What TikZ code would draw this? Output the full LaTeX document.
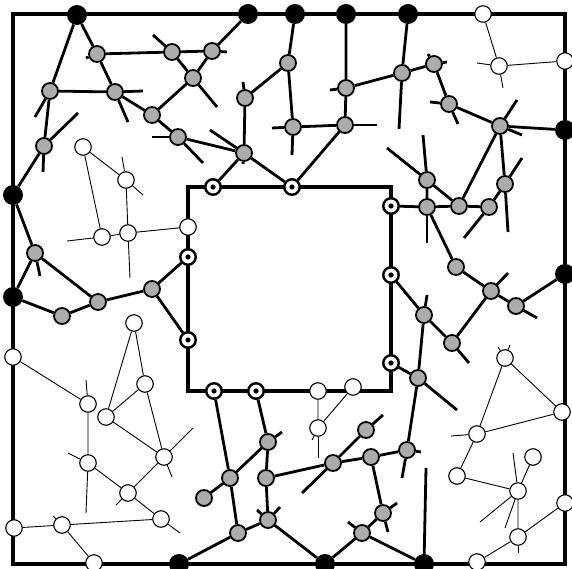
\documentclass[tikz,border=0pt]{standalone}
\begin{document}
\begin{tikzpicture}[x=1pt, y=-1pt,
    bond/.style={line width=2.8pt},
    thin bond/.style={line width=0.9pt},
    frame/.style={line width=3.2pt},
    gray site/.style={circle, draw, fill=gray!65, line width=1.8pt, minimum size=16pt, inner sep=0pt},
    black site/.style={circle, fill=black, minimum size=20pt, inner sep=0pt},
    white site/.style={circle, draw, fill=white, line width=1.1pt, minimum size=16.5pt, inner sep=0pt},
    dot site/.style={circle, draw, fill=white, line width=2.4pt, minimum size=15.5pt, inner sep=0pt},
  ]
  \useasboundingbox (0,0) rectangle (572,569);

  % --- Outer and inner squares ---
  \draw[frame] (13,14) rectangle (565,564);
  \draw[frame] (188,187) rectangle (391,391);

  % --- Sites on the outer square ---
  \node[black site] (b1) at (77,15) {};
  \node[black site] (b2) at (248,14) {};
  \node[black site] (b3) at (295,14) {};
  \node[black site] (b4) at (346,14) {};
  \node[black site] (b5) at (408,14) {};
  \node[black site] (b6) at (565,130) {};
  \node[black site] (b7) at (565,274) {};
  \node[black site] (b8) at (424,564) {};
  \node[black site] (b9) at (325,564) {};
  \node[black site] (b10) at (179,564) {};
  \node[black site] (b11) at (13,195) {};
  \node[black site] (b12) at (13,297) {};

  % --- Sites on the inner square ---
  \node[dot site] (d1) at (213,187) {};
  \node[dot site] (d2) at (292,187) {};
  \node[dot site] (d3) at (391,206) {};
  \node[dot site] (d4) at (391,275) {};
  \node[dot site] (d5) at (391,363) {};
  \node[dot site] (d6) at (188,257) {};
  \node[dot site] (d7) at (188,340) {};
  \node[dot site] (d8) at (214,391) {};
  \node[dot site] (d9) at (256,391) {};
  \foreach \d in {d1,d2,d3,d4,d5,d6,d7,d8,d9}
    \fill (\d.center) circle (2.6pt);

  % --- Gray sites (connected cluster) ---
  \node[gray site] (g1) at (97,54) {};
  \node[gray site] (g2) at (50,91) {};
  \node[gray site] (g3) at (115,92) {};
  \node[gray site] (g4) at (152,115) {};
  \node[gray site] (g5) at (44,146) {};
  \node[gray site] (g6) at (178,137) {};
  \node[gray site] (g7) at (172,52) {};
  \node[gray site] (g8) at (193,78) {};
  \node[gray site] (g9) at (212,51) {};
  \node[gray site] (g10) at (245,98) {};
  \node[gray site] (g11) at (244,153) {};
  \node[gray site] (g12) at (288,63) {};
  \node[gray site] (g13) at (293,127) {};
  \node[gray site] (g14) at (345,125) {};
  \node[gray site] (g15) at (346,88) {};
  \node[gray site] (g16) at (402,73) {};
  \node[gray site] (g17) at (434,64) {};
  \node[gray site] (g18) at (449,104) {};
  \node[gray site] (g19) at (500,126) {};
  \node[gray site] (g20) at (505,184) {};
  \node[gray site] (g21) at (459,206) {};
  \node[gray site] (g22) at (427,180) {};
  \node[gray site] (g23) at (427,207) {};
  \node[gray site] (g24) at (489,207) {};
  \node[gray site] (g25) at (456,267) {};
  \node[gray site] (g26) at (491,291) {};
  \node[gray site] (g27) at (516,306) {};
  \node[gray site] (g28) at (452,343) {};
  \node[gray site] (g29) at (424,315) {};
  \node[gray site] (g30) at (418,378) {};
  \node[gray site] (g31) at (407,450) {};
  \node[gray site] (g32) at (371,457) {};
  \node[gray site] (g33) at (383,513) {};
  \node[gray site] (g34) at (362,533) {};
  \node[gray site] (g35) at (366,430) {};
  \node[gray site] (g36) at (333,463) {};
  \node[gray site] (g37) at (230,478) {};
  \node[gray site] (g38) at (238,533) {};
  \node[gray site] (g39) at (268,520) {};
  \node[gray site] (g40) at (266,478) {};
  \node[gray site] (g41) at (268,442) {};
  \node[gray site] (g42) at (204,498) {};
  \node[gray site] (g43) at (35,253) {};
  \node[gray site] (g44) at (62,316) {};
  \node[gray site] (g45) at (98,302) {};
  \node[gray site] (g46) at (152,289) {};

  % --- White sites (isolated clusters) ---
  \node[white site] (w1) at (83,147) {};
  \node[white site] (w2) at (126,180) {};
  \node[white site] (w3) at (102,237) {};
  \node[white site] (w4) at (128,233) {};
  \node[white site] (w5) at (188,227) {};
  \node[white site] (w6) at (13,357) {};
  \node[white site] (w7) at (88,404) {};
  \node[white site] (w8) at (134,323) {};
  \node[white site] (w9) at (145,384) {};
  \node[white site] (w10) at (106,417) {};
  \node[white site] (w11) at (164,457) {};
  \node[white site] (w12) at (88,463) {};
  \node[white site] (w13) at (128,493) {};
  \node[white site] (w14) at (161,519) {};
  \node[white site] (w15) at (14,528) {};
  \node[white site] (w16) at (62,525) {};
  \node[white site] (w17) at (94,563) {};
  \node[white site] (w18) at (318,391) {};
  \node[white site] (w19) at (353,387) {};
  \node[white site] (w20) at (318,428) {};
  \node[white site] (w21) at (483,14) {};
  \node[white site] (w22) at (499,66) {};
  \node[white site] (w23) at (565,61) {};
  \node[white site] (w24) at (505,358) {};
  \node[white site] (w25) at (562,412) {};
  \node[white site] (w26) at (477,434) {};
  \node[white site] (w27) at (457,476) {};
  \node[white site] (w28) at (518,491) {};
  \node[white site] (w29) at (533,457) {};
  \node[white site] (w30) at (565,503) {};
  \node[white site] (w31) at (518,537) {};
  \node[white site] (w32) at (477,562) {};

  % --- Free ends of dangling bonds ---
  \coordinate (g1a) at (86,58);
  \coordinate (g2a) at (35,117);
  \coordinate (g3a) at (143,91);   \coordinate (g3b) at (128,122);
  \coordinate (g5a) at (78,113);   \coordinate (g5b) at (43,172);
  \coordinate (g6a) at (152,137);  \coordinate (g6b) at (203,163);
  \coordinate (g7a) at (153,35);
  \coordinate (g8a) at (217,107);
  \coordinate (g9a) at (227,52);
  \coordinate (g10a) at (243,82);
  \coordinate (g11a) at (210,130); \coordinate (g11b) at (243,164);
  \coordinate (g13a) at (272,128); \coordinate (g13b) at (292,155);
  \coordinate (g14a) at (377,125);
  \coordinate (g15a) at (330,90);
  \coordinate (g16a) at (399,129);
  \coordinate (g17a) at (428,54);  \coordinate (g17b) at (447,62);
  \coordinate (g18a) at (430,102); \coordinate (g18b) at (458,124);
  \coordinate (g19a) at (517,100); \coordinate (g19b) at (522,135);
  \coordinate (g20a) at (522,158); \coordinate (g20b) at (508,232);
  \coordinate (g22a) at (387,148); \coordinate (g22b) at (423,135);
  \coordinate (g23a) at (427,243);
  \coordinate (g24a) at (464,238);
  \coordinate (g26a) at (508,273);
  \coordinate (g27a) at (537,318);
  \coordinate (g28a) at (469,363);
  \coordinate (g29a) at (427,295);
  \coordinate (g30a) at (457,410);
  \coordinate (g31a) at (421,452); \coordinate (g31b) at (402,478);
  \coordinate (g33a) at (397,503); \coordinate (g33b) at (388,532);
  \coordinate (g34a) at (348,522);
  \coordinate (g35a) at (383,415);
  \coordinate (g36a) at (302,493);
  \coordinate (g39a) at (257,510); \coordinate (g39b) at (280,507);
  \coordinate (g41a) at (282,432);
  \coordinate (g43a) at (40,276);
  \coordinate (b8a) at (426,468);

  \coordinate (w2a) at (143,195);  \coordinate (w2b) at (122,157);
  \coordinate (w3a) at (67,241);
  \coordinate (w4a) at (130,278);
  \coordinate (w7a) at (86,380);
  \coordinate (w12a) at (86,513);  \coordinate (w12b) at (68,453);
  \coordinate (w11a) at (193,428); \coordinate (w11b) at (172,477);
  \coordinate (w13a) at (116,505);
  \coordinate (w14a) at (180,533);
  \coordinate (w16a) at (53,516);
  \coordinate (w20a) at (318,458); \coordinate (w20b) at (312,440);
  \coordinate (w22a) at (477,63);  \coordinate (w22b) at (503,88);
  \coordinate (w24a) at (498,347); \coordinate (w24b) at (510,345);
  \coordinate (w26a) at (451,436);
  \coordinate (w28a) at (513,453); \coordinate (w28b) at (480,522);
  \coordinate (w28c) at (505,528);
  \coordinate (w29a) at (535,448);
  \coordinate (w31a) at (518,553);

  % --- Bonds of the gray cluster ---
  \draw[bond] (b1) -- (g1) -- (g3) -- (g4) -- (g6) -- (g11);
  \draw[bond] (b1) -- (g2) -- (g3);
  \draw[bond] (g2) -- (g5) -- (b11);
  \draw[bond] (g1) -- (g7) -- (g9) -- (b2);
  \draw[bond] (g7) -- (g8) -- (g9);
  \draw[bond] (g8) -- (g4);
  \draw[bond] (g11) -- (g10) -- (g12) -- (b3);
  \draw[bond] (g12) -- (g13) -- (g14) -- (g15) -- (b4);
  \draw[bond] (g15) -- (g16) -- (b5);
  \draw[bond] (g14) -- (d2) -- (g11) -- (d1);
  \draw[bond] (g16) -- (g17) -- (g18) -- (g19) -- (b6);
  \draw[bond] (g19) -- (g20) -- (g24) -- (g21) -- (g19);
  \draw[bond] (g22) -- (g21) -- (g23) -- (g22);
  \draw[bond] (d3) -- (g23) -- (g25) -- (g26) -- (g27) -- (b7);
  \draw[bond] (g26) -- (g28) -- (g29) -- (d4);
  \draw[bond] (g29) -- (g30) -- (d5);
  \draw[bond] (g30) -- (g31) -- (g32) -- (g36) -- (g35);
  \draw[bond] (g32) -- (g33) -- (g34) -- (b9);
  \draw[bond] (g34) -- (b8) -- (b8a);
  \draw[bond] (g36) -- (g40) -- (g41) -- (d9);
  \draw[bond] (g41) -- (g37) -- (d8);
  \draw[bond] (g42) -- (g37) -- (g38) -- (b10);
  \draw[bond] (g38) -- (g39) -- (b9);
  \draw[bond] (g39) -- (g40);
  \draw[bond] (b11) -- (g43) -- (b12) -- (g44) -- (g45) -- (g46);
  \draw[bond] (g43) -- (g45);
  \draw[bond] (d6) -- (g46) -- (d7);

  % dangling gray bonds
  \foreach \s/\e in {g1/g1a, g2/g2a, g3/g3a, g3/g3b, g5/g5a, g5/g5b, g6/g6a, g6/g6b,
      g7/g7a, g8/g8a, g9/g9a, g10/g10a, g11/g11a, g11/g11b, g13/g13a, g13/g13b,
      g14/g14a, g15/g15a, g16/g16a, g17/g17a, g17/g17b, g18/g18a, g18/g18b,
      g19/g19a, g19/g19b, g20/g20a, g20/g20b, g22/g22a, g22/g22b, g23/g23a,
      g24/g24a, g26/g26a, g27/g27a, g28/g28a, g29/g29a, g30/g30a, g31/g31a,
      g31/g31b, g33/g33a, g33/g33b, g34/g34a, g35/g35a, g36/g36a, g39/g39a,
      g39/g39b, g41/g41a, g43/g43a}
    \draw[bond] (\s) -- (\e);

  % --- Bonds of the white clusters ---
  \draw[thin bond] (w3) -- (w1) -- (w2) -- (w4) -- (w5);
  \draw[thin bond] (w3) -- (w4);
  \draw[thin bond] (w6) -- (w7) -- (w12) -- (w13) -- (w14);
  \draw[thin bond] (w10) -- (w8) -- (w9) -- (w10) -- (w11) -- (w9);
  \draw[thin bond] (w13) -- (w11);
  \draw[thin bond] (w15) -- (w16) -- (w14);
  \draw[thin bond] (w16) -- (w17);
  \draw[thin bond] (w18) -- (w20) -- (w19);
  \draw[thin bond] (w21) -- (w22) -- (w23);
  \draw[thin bond] (w26) -- (w24) -- (w25) -- (w26) -- (w27) -- (w28) -- (w29);
  \draw[thin bond] (w28) -- (w31) -- (w30);
  \draw[thin bond] (w31) -- (w32);

  % dangling white bonds
  \foreach \s/\e in {w2/w2a, w2/w2b, w3/w3a, w4/w4a, w7/w7a, w12/w12a, w12/w12b,
      w11/w11a, w11/w11b, w13/w13a, w14/w14a, w16/w16a, w20/w20a, w20/w20b,
      w22/w22a, w22/w22b, w24/w24a, w24/w24b, w26/w26a, w28/w28a, w28/w28b,
      w28/w28c, w29/w29a, w31/w31a}
    \draw[thin bond] (\s) -- (\e);

\end{tikzpicture}
\end{document}
